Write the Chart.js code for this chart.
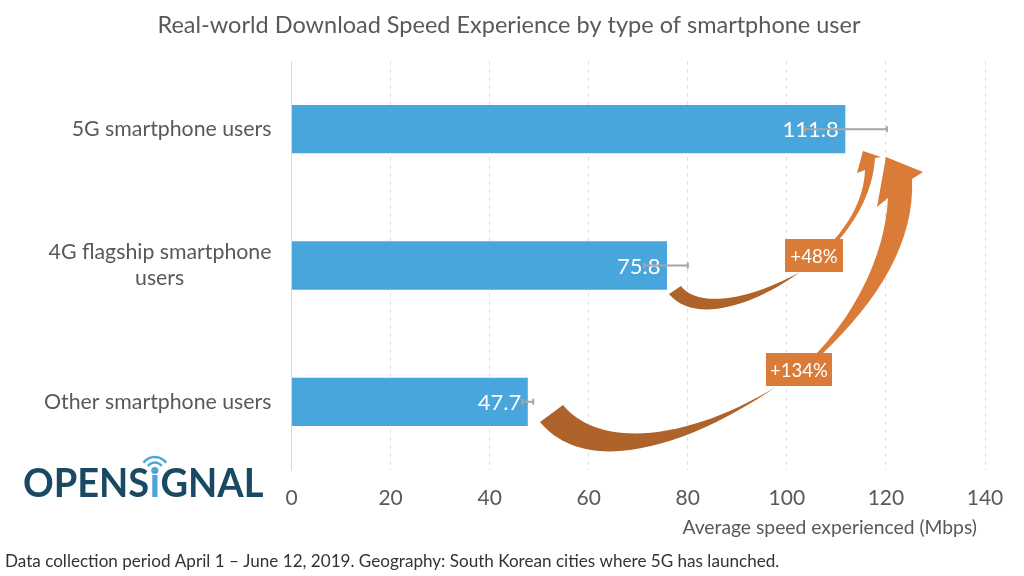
<!DOCTYPE html>
<html>
<head>
<meta charset="utf-8">
<style>
  html, body { margin: 0; padding: 0; background: #fff; }
  canvas { display: block; }
</style>
<script src="https://cdn.jsdelivr.net/npm/chart.js@4"></script>
</head>
<body>
<canvas id="myChart" width="1024" height="576"></canvas>
<script>
var categories = ['5G smartphone users', '4G flagship smartphone users', 'Other smartphone users'];
var speeds = [111.8, 75.8, 47.7];
var errLow = [103.6, 71.2, 46.6];
var errHigh = [120.2, 80.0, 48.8];
var gains = ['+48%', '+134%'];

var titleText = 'Real-world Download Speed Experience by type of smartphone user';
var axisText = 'Average speed experienced (Mbps)';
var footText = 'Data collection period April 1 – June 12, 2019. Geography: South Korean cities where 5G has launched.';

var BLUE = '#49a6dc', ORANGE = '#da7b38', BROWN = '#ae632b', GREY = '#595959';

// outline: two numbers = straight line, six numbers = bezier
function shape(ctx, color, start, parts) {
    ctx.fillStyle = color;
    ctx.beginPath();
    ctx.moveTo(start[0], start[1]);
    parts.forEach(function (p) {
        if (p.length == 2) ctx.lineTo(p[0], p[1]);
        else ctx.bezierCurveTo(p[0], p[1], p[2], p[3], p[4], p[5]);
    });
    ctx.closePath();
    ctx.fill();
}

function drawArrows(ctx) {
    // +48% arrow
    shape(ctx, BROWN, [669, 294], [
        [681, 286],
        [695, 305, 740, 305, 800, 272],
        [755, 305, 695, 325, 669, 294]
    ]);
    shape(ctx, ORANGE, [863, 151], [
        [881, 157], [875, 158],
        [873, 190, 858, 218, 838, 241],
        [833, 241],
        [850, 222, 864, 198, 865, 170],
        [857, 173]
    ]);
    // +134% arrow
    shape(ctx, BROWN, [540, 422], [
        [563, 405],
        [600, 450, 690, 440, 777, 386],
        [700, 440, 590, 482, 540, 422]
    ]);
    shape(ctx, ORANGE, [886, 157], [
        [923, 172], [912, 179],
        [915, 240, 880, 300, 820, 356],
        [814, 356],
        [850, 320, 885, 260, 888, 198],
        [877, 207]
    ]);
    // boxes with the gain
    var boxes = [[785, 239, 58, 33], [766, 353, 66, 33]];
    boxes.forEach(function (b, i) {
        ctx.fillStyle = ORANGE;
        ctx.fillRect(b[0], b[1], b[2], b[3]);
        ctx.fillStyle = '#fff';
        ctx.font = '18.6px Lato';
        ctx.textAlign = 'center';
        ctx.textBaseline = 'middle';
        ctx.fillText(gains[i], b[0] + b[2] / 2, b[1] + b[3] / 2 + 1);
    });
}

function drawLogo(ctx) {
    var y = 496.5;
    ctx.save();
    ctx.translate(23, 0);
    ctx.scale(0.95, 1);
    ctx.font = 'bold 40px Lato';
    ctx.textBaseline = 'alphabetic';
    ctx.textAlign = 'left';
    ctx.fillStyle = '#1a4a63';
    var x = 0;
    ctx.fillText('OPENS', x, y);
    x += ctx.measureText('OPENS').width;
    var w = ctx.measureText('I').width;
    ctx.save();
    ctx.beginPath();
    ctx.rect(x, 475, w, 30);
    ctx.clip();
    ctx.fillStyle = BLUE;
    ctx.fillText('I', x, y);
    ctx.restore();
    var cx = x + w / 2;
    ctx.fillText('GNAL', x + w, y);
    ctx.restore();
    cx = 23 + cx * 0.95;
    ctx.fillStyle = BLUE;
    ctx.beginPath();
    ctx.arc(cx, 470.5, 3.6, 0, Math.PI * 2);
    ctx.fill();
    ctx.strokeStyle = BLUE;
    ctx.lineWidth = 2.4;
    [8.5, 14].forEach(function (r) {
        ctx.beginPath();
        ctx.arc(cx, 471, r, -Math.PI * 0.8, -Math.PI * 0.2);
        ctx.stroke();
    });
}

var overlay = {
    id: 'overlay',
    afterDatasetsDraw: function (chart) {
        var ctx = chart.ctx, xs = chart.scales.x, ys = chart.scales.y;
        ctx.save();
        // value labels
        ctx.fillStyle = '#fff';
        ctx.font = '22px Lato';
        ctx.textAlign = 'right';
        ctx.textBaseline = 'middle';
        speeds.forEach(function (v, i) {
            ctx.fillText(v.toFixed(1), xs.getPixelForValue(v) - 6.5, ys.getPixelForValue(i) + 1);
        });
        // error bars
        ctx.strokeStyle = '#a6a6a6';
        ctx.lineWidth = 2;
        speeds.forEach(function (v, i) {
            var y = ys.getPixelForValue(i);
            var a = xs.getPixelForValue(errLow[i]), b = xs.getPixelForValue(errHigh[i]);
            ctx.beginPath();
            ctx.moveTo(a, y); ctx.lineTo(b, y);
            ctx.moveTo(a, y - 3); ctx.lineTo(a, y + 3);
            ctx.moveTo(b, y - 3); ctx.lineTo(b, y + 3);
            ctx.stroke();
        });
        drawArrows(ctx);
        drawLogo(ctx);
        // page texts
        ctx.textBaseline = 'alphabetic';
        ctx.fillStyle = GREY;
        ctx.textAlign = 'center';
        ctx.font = '23.5px Lato';
        ctx.fillText(titleText, 509, 33);
        ctx.textAlign = 'right';
        ctx.font = '19.3px Lato';
        ctx.fillText(axisText, 977, 534);
        ctx.textAlign = 'left';
        ctx.font = '17.1px Lato';
        ctx.fillStyle = '#333';
        ctx.fillText(footText, 5, 567);
        ctx.restore();
    }
};

var ctx = document.getElementById('myChart').getContext('2d');
var myChart = new Chart(ctx, {
    type: 'bar',
    data: {
        labels: categories,
        datasets: [{
            data: speeds,
            backgroundColor: BLUE,
            barPercentage: 0.355,
            categoryPercentage: 1
        }]
    },
    options: {
        indexAxis: 'y',
        responsive: false,
        animation: false,
        layout: { padding: { top: 61, right: 39, left: 0, bottom: 0 } },
        scales: {
            x: {
                min: 0,
                max: 140,
                afterFit: function (s) { s.height = 106; },
                border: { display: false, dash: [4, 4] },
                grid: { color: '#e0e0e0', lineWidth: 1, drawTicks: false },
                ticks: { stepSize: 20, padding: 16, color: GREY, maxRotation: 0, font: { family: 'Lato', size: 21 } }
            },
            y: {
                afterFit: function (s) { s.width = 291.5; },
                border: { display: true, color: '#d9d9d9' },
                grid: { display: false },
                ticks: {
                    padding: 12,
                    color: GREY,
                    font: { family: 'Lato', size: 21.3, lineHeight: 1.22 },
                    callback: function (value, index) {
                        // second line of the long label sits under the middle of the first
                        if (index == 1) return ['4G flagship smartphone', 'users' + '\u00A0'.repeat(16)];
                        return categories[index];
                    }
                }
            }
        },
        plugins: {
            legend: { display: false },
            tooltip: { enabled: false }
        }
    },
    plugins: [overlay]
});
</script>
</body>
</html>
